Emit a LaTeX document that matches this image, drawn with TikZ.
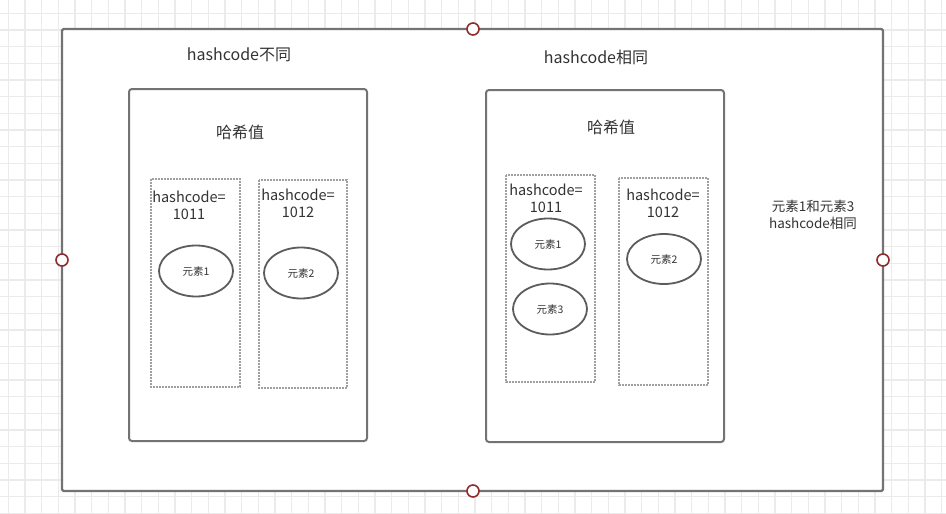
\documentclass[tikz,border=0pt]{standalone}
\usepackage{fontspec}
\setmainfont{Noto Sans CJK SC}
\usetikzlibrary{shapes.geometric}
\definecolor{gridc}{HTML}{EBEBEB}
\definecolor{boxc}{HTML}{737373}
\definecolor{dotc}{HTML}{A0A0A0}
\definecolor{handlec}{HTML}{8E2B2B}
\definecolor{txt}{HTML}{333333}
\tikzset{
  outerbox/.style={draw=boxc, line width=2.2pt, fill=white, rounded corners=1.5pt},
  innerbox/.style={draw=boxc, line width=2pt, fill=white, rounded corners=3pt},
  dotbox/.style={draw=dotc, line width=2.2pt, dash pattern=on 1.6pt off 1.4pt},
  elem/.style={draw=boxc!80!black, line width=1.8pt, ellipse, minimum width=74pt, minimum height=51pt, inner sep=0pt, font=\fontsize{10.5}{12}\selectfont, text=txt},
  handle/.style={circle, draw=handlec, line width=1.6pt, fill=white, minimum size=12pt, inner sep=0pt},
  title/.style={font=\fontsize{16}{18}\selectfont, text=txt},
  code/.style={font=\fontsize{14.5}{17}\selectfont, text=txt, align=center},
  note/.style={font=\fontsize{13.5}{16.5}\selectfont, text=txt, align=center}
}
\begin{document}
\begin{tikzpicture}[x=1pt,y=-1pt]
\useasboundingbox (0,0) rectangle (946,514);
\fill[white] (0,0) rectangle (946,514);
% grid
\foreach \i in {0,...,56} {
  \draw[gridc, line width=1.6pt] ({8.33+16.667*\i},0) -- ({8.33+16.667*\i},514);
}
\foreach \j in {0,...,31} {
  \draw[gridc, line width=1.6pt] (0,{13.33+16.667*\j}) -- (946,{13.33+16.667*\j});
}
% outer container
\draw[outerbox] (62,29) rectangle (883,491);
% inner boxes
\draw[innerbox] (129,89) rectangle (367,441);
\draw[innerbox] (486,90) rectangle (724,442);
% dotted buckets
\draw[dotbox] (151,179) rectangle (240,387);
\draw[dotbox] (259,180) rectangle (347,388);
\draw[dotbox] (506,175) rectangle (595,382);
\draw[dotbox] (619,178) rectangle (708,385);
% titles
\node[title] (t1) at (239,55) {hashcode不同};
\node[title] (t2) at (596,57) {hashcode相同};
\node[title] (h1) at (240,132) {哈希值};
\node[title] (h2) at (611,127) {哈希值};
% bucket labels
\node[code] (c1) at (189,205) {hashcode=\\1011};
\node[code] (c2) at (298,203) {hashcode=\\1012};
\node[code] (c3) at (546,198) {hashcode=\\1011};
\node[code] (c4) at (663,203) {hashcode=\\1012};
% elements
\node[elem] (e1) at (196,271) {元素1};
\node[elem] (e2) at (301,273) {元素2};
\node[elem] (e3) at (548,244) {元素1};
\node[elem] (e4) at (550,309) {元素3};
\node[elem, minimum height=50pt] (e5) at (664,259) {元素2};
% note
\node[note] (n1) at (813,215) {元素1和元素3\\hashcode相同};
% handles
\node[handle] (p1) at (473,29) {};
\node[handle] (p2) at (473,491) {};
\node[handle] (p3) at (62,260) {};
\node[handle] (p4) at (883,260) {};
\end{tikzpicture}
\end{document}
